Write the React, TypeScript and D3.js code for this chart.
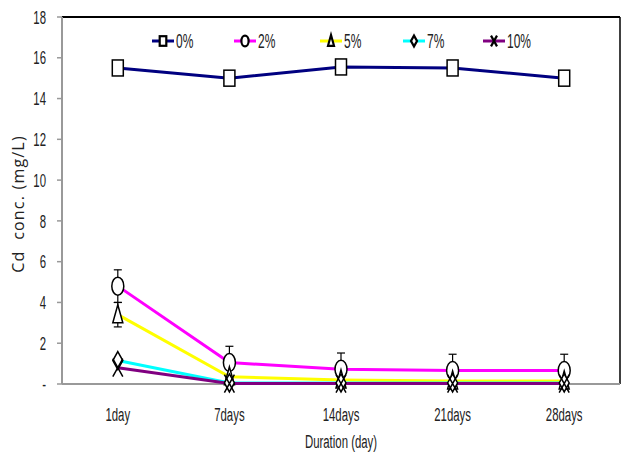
import * as d3 from 'd3'

const days = ['1day', '7days', '14days', '21days', '28days']
const yTicks = [0, 2, 4, 6, 8, 10, 12, 14, 16, 18]

const s0 = [15.5, 15.0, 15.55, 15.5, 15.0]
const s2 = [4.8, 1.05, 0.72, 0.66, 0.66]
const s2err = [0.8, 0.8, 0.8, 0.8, 0.8]
const s5 = [3.4, 0.35, 0.2, 0.15, 0.15]
const s5err = [0.6, 0, 0, 0, 0]
const s7 = [1.15, 0.05, 0.05, 0.05, 0.05]
const s10 = [0.8, 0.02, 0.02, 0.02, 0.02]

type Series = { key: string; color: string; marker: string; values: number[]; err?: number[] }

const series: Series[] = [
  { key: '0%', color: '#000080', marker: 'square', values: s0 },
  { key: '2%', color: '#ff00ff', marker: 'circle', values: s2, err: s2err },
  { key: '5%', color: '#ffff00', marker: 'triangle', values: s5, err: s5err },
  { key: '7%', color: '#00ffff', marker: 'diamond', values: s7 },
  { key: '10%', color: '#800080', marker: 'x', values: s10 },
]

const legendX = [163, 245, 331, 414, 494]

const narrowFont = '"Liberation Sans", Arial, sans-serif'

// condensed text: the reference uses a narrow face, so squeeze a regular one
function NText({
  x,
  y,
  anchor = 'start',
  size = 19,
  children,
}: {
  x: number
  y: number
  anchor?: string
  size?: number
  children: any
}) {
  return (
    <text
      transform={`translate(${x},${y}) scale(0.6,1)`}
      textAnchor={anchor}
      dy="0.35em"
      fontFamily={narrowFont}
      fontSize={size}
      fill="#222"
    >
      {children}
    </text>
  )
}

function Marker({
  type,
  cx,
  cy,
  scale = 1,
  sw = 1.5,
}: {
  type: string
  cx: number
  cy: number
  scale?: number
  sw?: number
}) {
  const st = { fill: 'white', stroke: 'black', strokeWidth: sw }
  if (type === 'square')
    return <rect x={cx - 5.5 * scale} y={cy - 8 * scale} width={11 * scale} height={16 * scale} {...st} />
  if (type === 'circle') return <ellipse cx={cx} cy={cy} rx={6 * scale} ry={9 * scale} {...st} />
  if (type === 'triangle')
    return (
      <path
        d={`M${cx},${cy - 10 * scale}L${cx + 5 * scale},${cy + 8 * scale}L${cx - 5 * scale},${cy + 8 * scale}Z`}
        {...st}
      />
    )
  if (type === 'diamond')
    return (
      <path
        d={`M${cx},${cy - 9 * scale}L${cx + 5 * scale},${cy}L${cx},${cy + 9 * scale}L${cx - 5 * scale},${cy}Z`}
        {...st}
      />
    )
  return (
    <path
      d={`M${cx - 5 * scale},${cy - 9 * scale}L${cx + 5 * scale},${cy + 9 * scale}M${cx + 5 * scale},${cy - 9 * scale}L${cx - 5 * scale},${cy + 9 * scale}`}
      fill="none"
      stroke="black"
      strokeWidth={sw}
    />
  )
}

export default function App() {
  const width = 641
  const height = 458
  const left = 62
  const right = 620
  const top = 17
  const bottom = 384

  const x = d3.scaleBand<string>().domain(days).range([left, right])
  const cx = (d: string) => (x(d) ?? 0) + x.bandwidth() / 2
  const y = d3.scaleLinear().domain([0, 18]).range([bottom, top])

  const line = d3
    .line<number>()
    .x((_, i) => cx(days[i]))
    .y((v) => y(v))

  return (
    <svg width={width} height={height} style={{ position: 'absolute', left: 0, top: 0 }}>
      <rect width={width} height={height} fill="white" />
      {/* frame */}
      <line x1={left} x2={right} y1={top} y2={top} stroke="black" strokeWidth={2} />
      <line x1={right} x2={right} y1={top} y2={bottom} stroke="black" strokeWidth={1.5} />
      <line x1={left} x2={left} y1={top} y2={bottom} stroke="#999" strokeWidth={2} />
      <line x1={left} x2={right} y1={bottom} y2={bottom} stroke="#999" strokeWidth={2} />

      {yTicks.map((t) => (
        <g key={t}>
          <line x1={left - 5} x2={left} y1={y(t)} y2={y(t)} stroke="#999" strokeWidth={1.5} />
          <NText x={left - 16} y={y(t)} anchor="end" size={19}>
            {t === 0 ? '-' : t}
          </NText>
        </g>
      ))}

      {days.map((d) => (
        <NText key={d} x={cx(d)} y={414} anchor="middle">
          {d}
        </NText>
      ))}
      <NText x={341} y={441} anchor="middle">
        Duration (day)
      </NText>
      <text
        transform={`translate(24,204) rotate(-90)`}
        textAnchor="middle"
        fontFamily='"Open Sans", sans-serif'
        fontSize={16}
        letterSpacing={1.2}
        fill="#222"
      >
        {'Cd\u00a0 conc. (mg/L)'}
      </text>

      {/* lines */}
      {series.map((s) => (
        <path key={s.key} d={line(s.values) ?? undefined} fill="none" stroke={s.color} strokeWidth={3} />
      ))}

      {/* error bars */}
      {series.map((s) =>
        s.err
          ? s.values.map((v, i) =>
              s.err![i] > 0 ? (
                <g key={`${s.key}-e${i}`} stroke="black" strokeWidth={1.2}>
                  <line x1={cx(days[i])} x2={cx(days[i])} y1={y(v - s.err![i])} y2={y(v + s.err![i])} />
                  <line x1={cx(days[i]) - 4} x2={cx(days[i]) + 4} y1={y(v + s.err![i])} y2={y(v + s.err![i])} />
                  <line x1={cx(days[i]) - 4} x2={cx(days[i]) + 4} y1={y(v - s.err![i])} y2={y(v - s.err![i])} />
                </g>
              ) : null
            )
          : null
      )}

      {/* markers */}
      {series.map((s) =>
        s.values.map((v, i) => <Marker key={`${s.key}-${i}`} type={s.marker} cx={cx(days[i])} cy={y(v)} />)
      )}

      {/* legend */}
      {series.map((s, i) => (
        <g key={s.key}>
          <line x1={legendX[i] - 11} x2={legendX[i] + 11} y1={41} y2={41} stroke={s.color} strokeWidth={3} />
          <Marker type={s.marker} cx={legendX[i]} cy={41} scale={0.6} sw={2.2} />
          <NText x={legendX[i] + 13} y={41} size={20}>
            {s.key}
          </NText>
        </g>
      ))}
    </svg>
  )
}
